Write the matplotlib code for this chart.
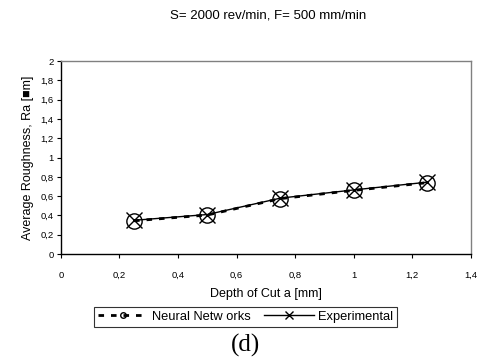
import matplotlib.pyplot as plt

depth = [0.25, 0.5, 0.75, 1.0, 1.25]
ra_nn = [0.345, 0.405, 0.575, 0.66, 0.74]
ra_exp = [0.35, 0.41, 0.58, 0.665, 0.745]

xticks = [0, 0.2, 0.4, 0.6, 0.8, 1.0, 1.2, 1.4]
xtick_labels = ['0', '0,2', '0,4', '0,6', '0,8', '1', '1,2', '1,4']
yticks = [0, 0.2, 0.4, 0.6, 0.8, 1.0, 1.2, 1.4, 1.6, 1.8, 2.0]
ytick_labels = ['0', '0,2', '0,4', '0,6', '0,8', '1', '1,2', '1,4', '1,6', '1,8', '2']

plt.rcParams['font.family'] = ['Liberation Sans', 'DejaVu Sans']

fig = plt.figure(figsize=(4.79, 3.64), dpi=100)
ax = fig.add_axes([0.127, 0.302, 0.856, 0.53])

ax.plot(depth, ra_nn, color='black', lw=2.0, ls=(0, (2, 2.5)),
        marker='o', ms=11, mfc='none', mec='black', mew=1.0,
        label='Neural Netw orks')
ax.plot(depth, ra_exp, color='black', lw=1.0, ls='-',
        marker='x', ms=12, mew=1.0, label='Experimental')

ax.set_xlim(0, 1.4)
ax.set_ylim(0, 2)
ax.set_xticks(xticks)
ax.set_xticklabels(xtick_labels)
ax.set_yticks(yticks)
ax.set_yticklabels(ytick_labels)
ax.tick_params(labelsize=6.8, length=3, width=0.8, direction='out', pad=2)
ax.tick_params(axis='x', pad=9)

for s in ['top', 'right']:
    ax.spines[s].set_color('#808080')
    ax.spines[s].set_linewidth(1.0)
for s in ['left', 'bottom']:
    ax.spines[s].set_color('black')
    ax.spines[s].set_linewidth(1.0)

ax.set_xlabel('Depth of Cut a [mm]', fontsize=9, labelpad=6)
ax.set_ylabel('Average Roughness, Ra [\u25A0m]', fontsize=9, labelpad=5)

fig.text(0.56, 0.958, 'S= 2000 rev/min, F= 500 mm/min', ha='center', va='center', fontsize=9.5)

leg = fig.legend(loc='center', bbox_to_anchor=(0.512, 0.13), ncol=2, fontsize=9.3,
                 frameon=True, fancybox=False, edgecolor='black', handlelength=3.9,
                 handletextpad=0.3, columnspacing=1.0, borderpad=0.3, borderaxespad=0)
leg.get_frame().set_linewidth(0.8)
# legend markers are smaller than in the plot
leg.legend_handles[0].set_markersize(4)
leg.legend_handles[1].set_markersize(6)

fig.text(0.512, 0.05, '(d)', ha='center', va='center', fontsize=18,
         family=['Liberation Serif', 'DejaVu Serif'])

fig.savefig('out.png', dpi=100)
